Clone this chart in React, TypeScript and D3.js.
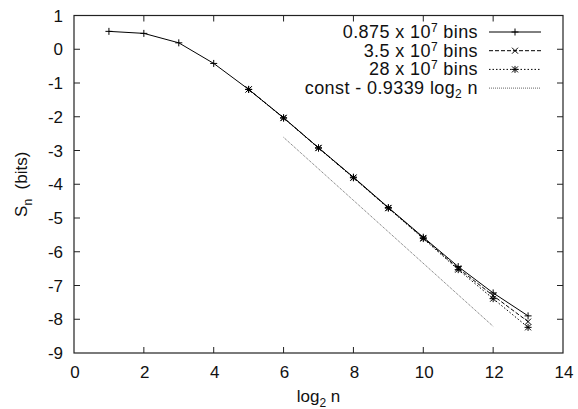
import React, { useRef, useEffect } from "react";
import * as d3 from "d3";

// log2 n values
const xSmall = [1, 2, 3, 4, 5, 6, 7, 8, 9, 10, 11, 12, 13];
const xLarge = [5, 6, 7, 8, 9, 10, 11, 12, 13];

// S_n for each bin count
const s0875 = [0.53, 0.47, 0.19, -0.42, -1.19, -2.03, -2.92, -3.79, -4.69, -5.57, -6.44, -7.22, -7.9];
const s35 = [-1.19, -2.03, -2.92, -3.8, -4.7, -5.59, -6.49, -7.3, -8.07];
const s28 = [-1.19, -2.04, -2.93, -3.81, -4.71, -5.61, -6.53, -7.39, -8.24];

// fitted line endpoints (const - 0.9339 log2 n)
const fitX = [6, 12];
const fitY = [-2.61, -8.21];

const xTicks = [0, 2, 4, 6, 8, 10, 12, 14];
const yTicks = [1, 0, -1, -2, -3, -4, -5, -6, -7, -8, -9];

const W = 578;
const H = 409;
const M = { left: 74, right: 15, top: 15.5, bottom: 56 };
const FONT = "'Liberation Sans', Arial, Helvetica, sans-serif";

const App = () => {
  const svgRef = useRef<SVGSVGElement | null>(null);

  useEffect(() => {
    const svg = d3.select(svgRef.current);
    svg.selectAll("*").remove();

    const x = d3.scaleLinear().domain([0, 14]).range([M.left, W - M.right]);
    const y = d3.scaleLinear().domain([-9, 1]).range([H - M.bottom, M.top]);
    const x0 = x(0), x1 = x(14), y0 = y(-9), y1 = y(1);
    const tl = 6;
    const ink = "#222";

    const g = svg.append("g");

    // ticks on all four sides, pointing inward
    xTicks.forEach((t) => {
      if (t === 0 || t === 14) return;
      g.append("line").attr("x1", x(t)).attr("x2", x(t)).attr("y1", y0).attr("y2", y0 - tl).attr("stroke", ink);
      g.append("line").attr("x1", x(t)).attr("x2", x(t)).attr("y1", y1).attr("y2", y1 + tl).attr("stroke", ink);
    });
    yTicks.forEach((t) => {
      if (t === 1 || t === -9) return;
      g.append("line").attr("x1", x0).attr("x2", x0 + tl).attr("y1", y(t)).attr("y2", y(t)).attr("stroke", ink);
      g.append("line").attr("x1", x1).attr("x2", x1 - tl).attr("y1", y(t)).attr("y2", y(t)).attr("stroke", ink);
    });

    g.append("rect")
      .attr("x", x0).attr("y", y1)
      .attr("width", x1 - x0).attr("height", y0 - y1)
      .attr("fill", "none").attr("stroke", ink).attr("stroke-width", 1.2);

    // tick labels
    g.selectAll(".xt").data(xTicks).enter().append("text")
      .attr("x", (d) => x(d) + 1).attr("y", y0 + 25)
      .attr("text-anchor", "middle")
      .style("font", `17px ${FONT}`).attr("fill", "#111")
      .text((d) => d);
    g.selectAll(".yt").data(yTicks).enter().append("text")
      .attr("x", x0 - 11).attr("y", (d) => y(d) + 6)
      .attr("text-anchor", "end")
      .style("font", `17px ${FONT}`).attr("fill", "#111")
      .text((d) => d);

    // axis titles
    const xl = g.append("text")
      .attr("x", x(7)).attr("y", y0 + 49)
      .attr("text-anchor", "middle")
      .style("font", `17px ${FONT}`).attr("fill", "#111");
    xl.append("tspan").text("log");
    xl.append("tspan").attr("dy", 5).style("font-size", "12px").text("2");
    xl.append("tspan").attr("dy", -5).text(" n");

    const yl = g.append("text")
      .attr("transform", `translate(27,${(y0 + y1) / 2}) rotate(-90)`)
      .attr("text-anchor", "middle")
      .style("font", `17px ${FONT}`).attr("fill", "#111");
    yl.append("tspan").text("S");
    yl.append("tspan").attr("dy", 5).style("font-size", "12px").text("n");
    yl.append("tspan").attr("dy", -5).text("\u00a0 (bits)");

    // markers
    const plus = (sel: any, cx: number, cy: number) => {
      sel.append("path").attr("d", `M${cx - 3.5},${cy}H${cx + 3.5}M${cx},${cy - 3.5}V${cy + 3.5}`)
        .attr("stroke", "#000").attr("stroke-width", 1).attr("fill", "none");
    };
    const cross = (sel: any, cx: number, cy: number) => {
      sel.append("path").attr("d", `M${cx - 3},${cy - 3}L${cx + 3},${cy + 3}M${cx - 3},${cy + 3}L${cx + 3},${cy - 3}`)
        .attr("stroke", "#000").attr("stroke-width", 1).attr("fill", "none");
    };
    const star = (sel: any, cx: number, cy: number) => {
      plus(sel, cx, cy);
      cross(sel, cx, cy);
    };

    const line = d3.line<[number, number]>().x((d) => x(d[0])).y((d) => y(d[1]));

    const series = [
      { xs: xSmall, ys: s0875, dash: null, mark: plus },
      { xs: xLarge, ys: s35, dash: "4,2", mark: cross },
      { xs: xLarge, ys: s28, dash: "1.5,2", mark: star },
    ];

    const plot = svg.append("g");
    series.forEach((s) => {
      const pts = s.xs.map((v, i) => [v, s.ys[i]] as [number, number]);
      plot.append("path").attr("d", line(pts))
        .attr("fill", "none").attr("stroke", "#000").attr("stroke-width", 1)
        .attr("stroke-dasharray", s.dash);
      pts.forEach((p) => s.mark(plot, x(p[0]), y(p[1])));
    });

    const fitPts = fitX.map((v, i) => [v, fitY[i]] as [number, number]);
    plot.append("path").attr("d", line(fitPts))
      .attr("fill", "none").attr("stroke", "#666").attr("stroke-width", 1)
      .attr("stroke-dasharray", "1,1");

    // legend
    const lg = svg.append("g");
    const lx = 478, la = 489, lb = 541;
    const rows = [
      { lead: "0.875 x 10", sup: true, dash: null, mark: plus, color: "#000" },
      { lead: "3.5 x 10", sup: true, dash: "4,2", mark: cross, color: "#000" },
      { lead: "28 x 10", sup: true, dash: "1.5,2", mark: star, color: "#000" },
      { lead: "const - 0.9339 log", sup: false, dash: "1,1", mark: null, color: "#666" },
    ];
    rows.forEach((r, i) => {
      const cy = 32 + i * 18.7;
      const t = lg.append("text")
        .attr("x", lx).attr("y", cy + 6)
        .attr("text-anchor", "end")
        .style("font", `18px ${FONT}`).style("letter-spacing", "0.4px").attr("fill", "#111");
      t.append("tspan").text(r.lead);
      if (r.sup) {
        t.append("tspan").attr("dy", -6).style("font-size", "12px").text("7");
        t.append("tspan").attr("dy", 6).text(" bins");
      } else {
        t.append("tspan").attr("dy", 4).style("font-size", "12px").text("2");
        t.append("tspan").attr("dy", -4).text(" n");
      }
      lg.append("line").attr("x1", la).attr("x2", lb).attr("y1", cy).attr("y2", cy)
        .attr("stroke", r.color).attr("stroke-width", 1)
        .attr("stroke-dasharray", r.dash);
      if (r.mark) r.mark(lg, (la + lb) / 2, cy);
    });
  }, []);

  return (
    <div style={{ position: "absolute", left: 0, top: 0, background: "#fff" }}>
      <svg ref={svgRef} width={W} height={H} style={{ display: "block" }} />
    </div>
  );
};

export default App;
